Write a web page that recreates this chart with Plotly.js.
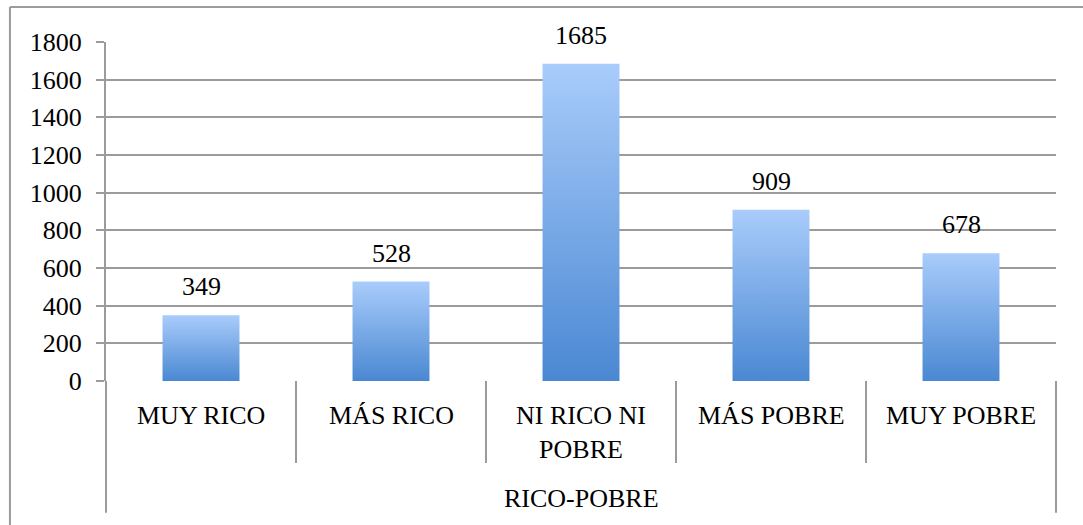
<!DOCTYPE html>
<html>
<head>
<meta charset="utf-8">
<script src="https://cdn.plot.ly/plotly-3.0.1.min.js"></script>
<style>
  html, body { margin: 0; padding: 0; background: #ffffff; }
  #chart { width: 1083px; height: 525px; }
</style>
</head>
<body>
<div id="chart"></div>
<script>
// ---- data ----
const categories = ['MUY RICO', 'MÁS RICO', 'NI RICO NI<br>POBRE', 'MÁS POBRE', 'MUY POBRE'];
const values = [349, 528, 1685, 909, 678];
const groupLabel = 'RICO-POBRE';
const yTicks = [0, 200, 400, 600, 800, 1000, 1200, 1400, 1600, 1800];

// ---- style ----
const FONT = 'Liberation Serif';
const GRID = '#9b9b9b';
const BAR_DARK = '#4a88d2';
const BAR_LIGHT = '#a9ccfb';
const HALF_W = 0.2025;
const n = categories.length;

const traces = values.map((v, i) => ({
  type: 'scatter',
  mode: 'lines',
  x: [i - HALF_W, i - HALF_W, i + HALF_W, i + HALF_W, i - HALF_W],
  y: [0, v, v, 0, 0],
  fill: 'toself',
  fillgradient: { type: 'vertical', colorscale: [[0, BAR_DARK], [1, BAR_LIGHT]] },
  line: { width: 0, color: 'rgba(0,0,0,0)' },
  hoverinfo: 'skip',
  showlegend: false
}));

const annotations = [];
values.forEach((v, i) => {
  annotations.push({
    x: i, y: v, xref: 'x', yref: 'y',
    text: String(v), showarrow: false,
    yanchor: 'bottom', yshift: 12,
    font: { family: FONT, size: 26, color: '#000' }
  });
});
categories.forEach((c, i) => {
  annotations.push({
    x: i, y: -0.054, xref: 'x', yref: 'paper',
    text: c, showarrow: false,
    yanchor: 'top', align: 'center',
    font: { family: FONT, size: 26, color: '#000' }
  });
});
annotations.push({
  x: 0.5, y: -0.347, xref: 'paper', yref: 'paper',
  text: groupLabel, showarrow: false, yanchor: 'middle',
  font: { family: FONT, size: 26, color: '#000' }
});

const shapes = [];
for (let k = 0; k <= n; k++) {
  const outer = (k === 0 || k === n);
  shapes.push({
    type: 'line', xref: 'paper', yref: 'paper',
    x0: k / n, x1: k / n, y0: 0, y1: outer ? -0.389 : -0.242,
    line: { color: GRID, width: 2 }
  });
}
// outer chart frame (left and top edges visible)
shapes.push({ type: 'line', xref: 'paper', yref: 'paper', x0: -0.1011, x1: -0.1011, y0: 1.1032, y1: -0.5,
  line: { color: GRID, width: 2 } });
shapes.push({ type: 'line', xref: 'paper', yref: 'paper', x0: -0.1011, x1: 1.05, y0: 1.1032, y1: 1.1032,
  line: { color: GRID, width: 2 } });

const layout = {
  width: 1083, height: 525,
  margin: { l: 106, r: 27, t: 42, b: 144 },
  paper_bgcolor: '#ffffff', plot_bgcolor: '#ffffff',
  showlegend: false,
  font: { family: FONT, size: 26, color: '#000' },
  xaxis: {
    range: [-0.5, n - 0.5], showgrid: false, zeroline: false,
    showticklabels: false, ticks: '', showline: false, fixedrange: true
  },
  yaxis: {
    range: [0, 1800], tickmode: 'array', tickvals: yTicks, ticktext: yTicks.map(String),
    showgrid: true, gridcolor: GRID, gridwidth: 2,
    zeroline: false, showline: true, linecolor: GRID, linewidth: 2,
    ticks: 'outside', ticklen: 8, tickwidth: 2, tickcolor: GRID,
    ticklabelstandoff: 9,
    tickfont: { family: FONT, size: 26, color: '#000' }, fixedrange: true
  },
  annotations: annotations,
  shapes: shapes
};

Plotly.newPlot('chart', traces, layout, { displayModeBar: false, staticPlot: true });
</script>
</body>
</html>
